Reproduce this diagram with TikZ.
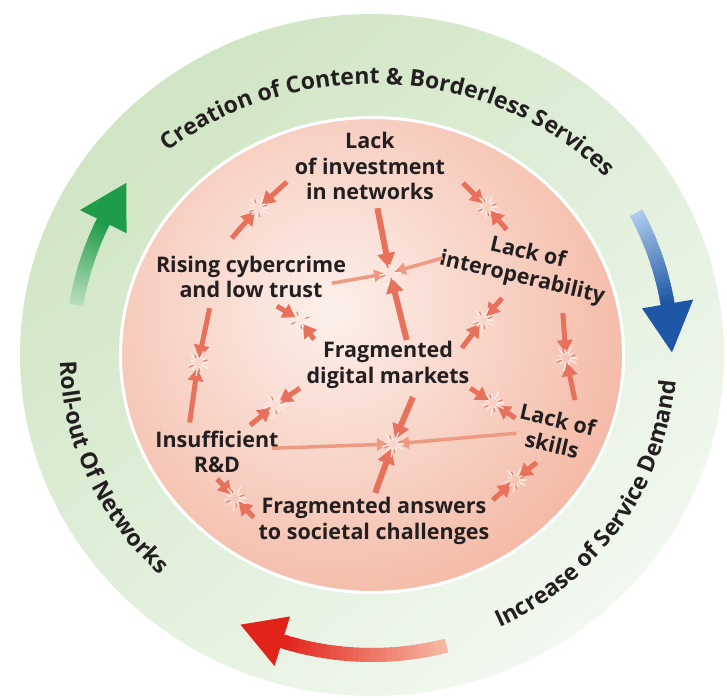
\documentclass[tikz,border=0pt]{standalone}
\usepackage{fontspec}
\setmainfont{Open Sans}
\usepackage{xcolor}
\usetikzlibrary{
  arrows.meta,
  calc,
  decorations.text
}
\definecolor{ringgreen}{HTML}{CFE5C3}
\definecolor{ringpale}{HTML}{F2F8F0}
\definecolor{diskin}{HTML}{FCF0EB}
\definecolor{diskout}{HTML}{F4B9A5}
\definecolor{arrowred}{HTML}{E8715B}
\definecolor{arrowlight}{HTML}{EE9A83}
\definecolor{inkdark}{HTML}{231F20}
\definecolor{cyclegreen}{HTML}{1E9B4B}
\definecolor{cyclegreenlt}{HTML}{B8DDBA}
\definecolor{cycleblue}{HTML}{1D57A5}
\definecolor{cyclebluelt}{HTML}{AECAEB}
\definecolor{cyclered}{HTML}{E2231A}
\definecolor{cycleredlt}{HTML}{F6B7A2}
\definecolor{burstlight}{HTML}{FDEDE7}
\definecolor{burstdark}{HTML}{E07F68}
\newcommand{\ringfont}{\fontsize{23}{23}\selectfont\bfseries\color{inkdark}}
% #1 start angle, #2 head base angle, #3 tip angle, #4 light, #5 dark
\newcommand{\ringarrow}[5]{%
  \foreach \i in {0,...,29}{%
    \pgfmathsetmacro{\angA}{#1+(#2-#1)*\i/30}%
    \pgfmathsetmacro{\angB}{#1+(#2-#1)*(\i+1.5)/30}%
    \pgfmathtruncatemacro{\mix}{100*\i/29}%
    \draw[line width=14pt, color=#5!\mix!#4] (\angA:300) arc[start angle=\angA, end angle=\angB, radius=300];
  }%
  \fill[#5] (#3:300) -- (#2:326) -- (#2:274) -- cycle;
}
\tikzset{
  burst/.pic={
    \foreach \a/\r in {0/11, 33/8, 64/13, 97/9, 128/12, 160/8, 193/11, 228/9, 262/13, 298/8, 332/12}
      \draw[burstlight, line width=1.3pt] (\a:4) -- (\a:\r);
    \foreach \a/\r in {18/10, 112/9, 205/10, 280/9}
      \draw[burstdark, line width=1pt] (\a:5) -- (\a:\r);
  }
}
\begin{document}
\begin{tikzpicture}[x=1pt, y=1pt,
  issue/.style={align=center, text=inkdark, inner sep=0pt,
                font=\fontsize{21.5}{25.5}\selectfont\bfseries},
  arrow/.style={arrowred, line width=5pt, shorten >=5pt,
                -{Triangle[length=13pt, width=15pt]}},
  mainarrow/.style={arrow, line width=6pt, -{Triangle[length=15pt, width=17pt]}},
  thinarrow/.style={arrowlight, line width=3.5pt, shorten >=5pt,
                -{Triangle[length=11pt, width=12pt]}},
  ringtext/.style={decorate, decoration={text along path, text align=center,
                text={|\ringfont|#1}}}
]
  \useasboundingbox (-372,-342) rectangle (355,355);

  % Ring and disc
  \shade[top color=ringgreen, bottom color=ringpale, shading angle=40]
    (0,0) ellipse [x radius=352, y radius=341];
  \begin{scope}
    \clip (0,0) ellipse [x radius=250, y radius=236];
    \shade[inner color=diskin, outer color=diskout] (-40,45) circle [radius=310];
  \end{scope}
  \draw[white, line width=3pt] (0,0) ellipse [x radius=251.5, y radius=237.5];

  % Cycle arrows
  \ringarrow{170.4}{153.6}{145}{cyclegreenlt}{cyclegreen}
  \ringarrow{28.3}{9.8}{0.5}{cyclebluelt}{cycleblue}
  \ringarrow{-75.6}{-107.4}{-116}{cycleredlt}{cyclered}

  % Ring labels
  \path[ringtext={Creation of Content {\&} Borderless Services}]
    (145:309 and 271) arc[start angle=145, end angle=27, x radius=309, y radius=271];
  \path[ringtext={Increase of Service Demand}]
    (-85:305 and 300) arc[start angle=-85, end angle=15, x radius=305, y radius=300];
  \path[ringtext={Roll-out Of Networks}]
    (167:312 and 300) arc[start angle=167, end angle=241, x radius=312, y radius=300];

  % Issues
  \node[issue] (inv) at (-2,189) {Lack\\of investment\\in networks};
  \node[issue] (cyber) at (-121,78) {Rising cybercrime\\and low trust};
  \node[issue, rotate=-13] (interop) at (153,89) {Lack of\\interoperability};
  \node[issue] (frag) at (16,-10) {Fragmented\\digital markets};
  \node[issue, rotate=-13] (skills) at (183,-77) {Lack of\\skills};
  \node[issue] (rnd) at (-155,-97) {Insufficient\\R\&D};
  \node[issue] (answers) at (2,-166) {Fragmented answers\\to societal challenges};

  % Bursts
  \coordinate (b1) at (-114,147);
  \coordinate (b2) at (115,148);
  \coordinate (bc) at (18,82);
  \coordinate (b3) at (-72,35);
  \coordinate (b4) at (111,35);
  \coordinate (b5) at (-174,-8);
  \coordinate (b6) at (194,-3);
  \coordinate (b7) at (-97,-50);
  \coordinate (b8) at (121,-48);
  \coordinate (bl) at (21,-89);
  \coordinate (b9) at (-137,-143);
  \coordinate (b10) at (143,-125);

  % Arrows into the bursts
  \foreach \b/\a/\l in {b1/42/39, b1/229/40, b2/135/34, b2/-49/30, b3/149/27, b3/-54/24,
                        b4/49/29, b4/233/35, b5/78/56, b5/262/60, b6/94/45, b6/-78/43,
                        b7/34/30, b7/219/32, b8/147/27, b8/-34/27, b9/133/26, b9/-46/27,
                        b10/39/28, b10/222/30}
    \draw[arrow] ($(\b)+(\a:\l)$) -- (\b);
  \foreach \b/\a/\l in {bc/101/66, bc/-76/69, bl/67/51, bl/250/52}
    \draw[mainarrow] ($(\b)+(\a:\l)$) -- (\b);
  \foreach \b/\a/\l in {bc/190/59, bc/16/55, bl/182/121, bl/5/124}
    \draw[thinarrow] ($(\b)+(\a:\l)$) -- (\b);

  \foreach \b in {b1,b2,bc,b3,b4,b5,b6,b7,b8,bl,b9,b10}
    \pic at (\b) {burst};
\end{tikzpicture}
\end{document}
